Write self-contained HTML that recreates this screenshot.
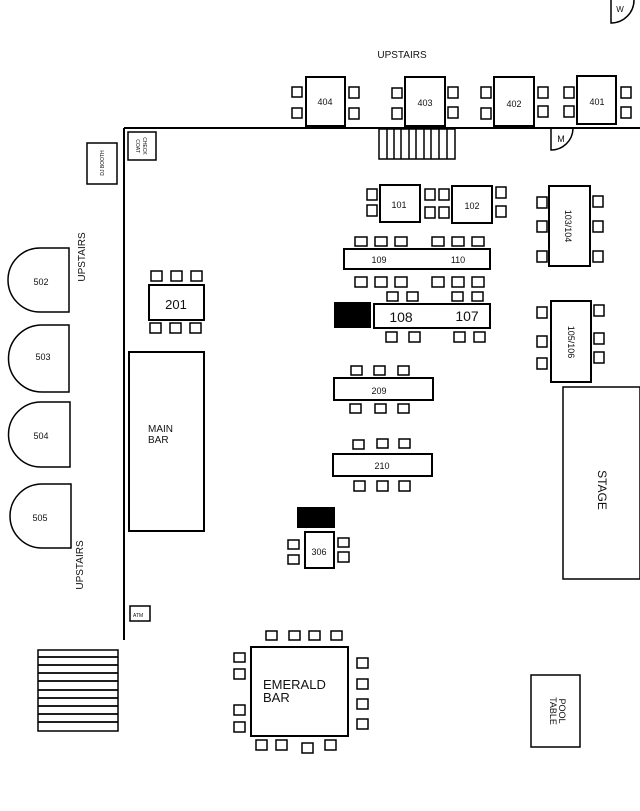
<!DOCTYPE html>
<html><head><meta charset="utf-8"><style>
html,body{margin:0;padding:0;background:#fff}
svg{display:block}
text{font-family:"Liberation Sans",Arial,sans-serif;fill:#111}
</style></head><body>
<svg width="640" height="811" viewBox="0 0 640 811" xmlns="http://www.w3.org/2000/svg">
<g fill="#fff" stroke="#000" stroke-width="2">
<line x1="124" y1="128" x2="640" y2="128"/>
<line x1="124" y1="128" x2="124" y2="640"/>
<path d="M611,0 V23 A23,23 0 0 0 634,0" stroke-width="1.5"/>
<path d="M551,129 V150 A22,22 0 0 0 573,129" stroke-width="1.5"/>
<rect x="379" y="129" width="76" height="30" stroke-width="1.5"/>
<g stroke-width="1.5">
<line x1="387" y1="129" x2="387" y2="159"/><line x1="394" y1="129" x2="394" y2="159"/>
<line x1="401" y1="129" x2="401" y2="159"/><line x1="409" y1="129" x2="409" y2="159"/>
<line x1="416" y1="129" x2="416" y2="159"/><line x1="424" y1="129" x2="424" y2="159"/>
<line x1="431" y1="129" x2="431" y2="159"/><line x1="439" y1="129" x2="439" y2="159"/>
<line x1="447" y1="129" x2="447" y2="159"/>
</g>
<rect x="306" y="77" width="39" height="49"/>
<rect x="405" y="77" width="40" height="49"/>
<rect x="494" y="77" width="40" height="49"/>
<rect x="577" y="76" width="39" height="48"/>
<g stroke-width="1.5">
<rect x="292" y="87" width="10" height="10"/><rect x="292" y="108" width="10" height="10"/>
<rect x="349" y="87" width="10" height="11"/><rect x="349" y="108" width="10" height="11"/>
<rect x="392" y="88" width="10" height="10"/><rect x="392" y="108" width="10" height="11"/>
<rect x="448" y="87" width="10" height="11"/><rect x="448" y="107" width="10" height="11"/>
<rect x="481" y="87" width="10" height="11"/><rect x="481" y="108" width="10" height="11"/>
<rect x="538" y="87" width="10" height="11"/><rect x="538" y="106" width="10" height="11"/>
<rect x="564" y="87" width="10" height="11"/><rect x="564" y="106" width="10" height="11"/>
<rect x="621" y="87" width="10" height="11"/><rect x="621" y="107" width="10" height="11"/>
</g>
<rect x="128" y="132" width="28" height="28" stroke-width="1.5"/>
<rect x="87" y="143" width="30" height="41" stroke-width="1.5"/>
<path d="M69,248 H40 A32,32 0 0 0 40,312 H69 Z" stroke-width="1.5"/>
<path d="M69,325 H42 A33,33 0 0 0 42,392 H69 Z" stroke-width="1.5"/>
<path d="M70,402 H41 A32.5,32.5 0 0 0 41,467 H70 Z" stroke-width="1.5"/>
<path d="M71,484 H42 A32,32 0 0 0 42,548 H71 Z" stroke-width="1.5"/>
<rect x="149" y="285" width="55" height="35"/>
<g stroke-width="1.5">
<rect x="151" y="271" width="11" height="10"/><rect x="171" y="271" width="11" height="10"/><rect x="191" y="271" width="11" height="10"/>
<rect x="150" y="323" width="11" height="10"/><rect x="170" y="323" width="11" height="10"/><rect x="190" y="323" width="11" height="10"/>
</g>
<rect x="129" y="352" width="75" height="179"/>
<rect x="130" y="606" width="20" height="15" stroke-width="1.5"/>
<rect x="38" y="650" width="80" height="81" stroke-width="1.5"/>
<g stroke-width="1.8">
<line x1="38" y1="657" x2="118" y2="657"/><line x1="38" y1="665" x2="118" y2="665"/>
<line x1="38" y1="673" x2="118" y2="673"/><line x1="38" y1="681" x2="118" y2="681"/>
<line x1="38" y1="690" x2="118" y2="690"/><line x1="38" y1="698" x2="118" y2="698"/>
<line x1="38" y1="706" x2="118" y2="706"/><line x1="38" y1="714" x2="118" y2="714"/>
<line x1="38" y1="722" x2="118" y2="722"/>
</g>
<rect x="298" y="508" width="36" height="19" fill="#000"/>
<rect x="305" y="532" width="29" height="36"/>
<g stroke-width="1.5">
<rect x="288" y="540" width="11" height="9"/><rect x="288" y="555" width="11" height="9"/>
<rect x="338" y="538" width="11" height="9"/><rect x="338" y="552" width="11" height="10"/>
</g>
<rect x="251" y="647" width="97" height="89"/>
<g stroke-width="1.5">
<rect x="266" y="631" width="11" height="9"/><rect x="289" y="631" width="11" height="9"/><rect x="309" y="631" width="11" height="9"/><rect x="331" y="631" width="11" height="9"/>
<rect x="234" y="653" width="11" height="9"/><rect x="234" y="669" width="11" height="10"/><rect x="234" y="705" width="11" height="10"/><rect x="234" y="722" width="11" height="10"/>
<rect x="357" y="658" width="11" height="10"/><rect x="357" y="679" width="11" height="10"/><rect x="357" y="699" width="11" height="10"/><rect x="357" y="719" width="11" height="10"/>
<rect x="256" y="740" width="11" height="10"/><rect x="276" y="740" width="11" height="10"/><rect x="302" y="743" width="11" height="10"/><rect x="325" y="740" width="11" height="10"/>
</g>
<rect x="380" y="185" width="40" height="37"/>
<rect x="452" y="186" width="40" height="37"/>
<g stroke-width="1.5">
<rect x="367" y="189" width="10" height="11"/><rect x="367" y="205" width="10" height="11"/>
<rect x="425" y="189" width="10" height="11"/><rect x="425" y="207" width="10" height="11"/>
<rect x="439" y="189" width="10" height="11"/><rect x="439" y="207" width="10" height="11"/>
<rect x="496" y="187" width="10" height="11"/><rect x="496" y="206" width="10" height="11"/>
</g>
<rect x="344" y="249" width="146" height="20"/>
<g stroke-width="1.5">
<rect x="355" y="237" width="12" height="9"/><rect x="375" y="237" width="12" height="9"/><rect x="395" y="237" width="12" height="9"/>
<rect x="432" y="237" width="12" height="9"/><rect x="452" y="237" width="12" height="9"/><rect x="472" y="237" width="12" height="9"/>
<rect x="355" y="277" width="12" height="10"/><rect x="375" y="277" width="12" height="10"/><rect x="395" y="277" width="12" height="10"/>
<rect x="432" y="277" width="12" height="10"/><rect x="452" y="277" width="12" height="10"/><rect x="472" y="277" width="12" height="10"/>
</g>
<rect x="335" y="303" width="35" height="24" fill="#000"/>
<rect x="374" y="304" width="116" height="24"/>
<g stroke-width="1.5">
<rect x="387" y="292" width="11" height="9"/><rect x="407" y="292" width="11" height="9"/>
<rect x="452" y="292" width="11" height="9"/><rect x="472" y="292" width="11" height="9"/>
<rect x="386" y="332" width="11" height="10"/><rect x="409" y="332" width="11" height="10"/>
<rect x="454" y="332" width="11" height="10"/><rect x="474" y="332" width="11" height="10"/>
</g>
<rect x="549" y="186" width="41" height="80"/>
<rect x="551" y="301" width="40" height="81"/>
<g stroke-width="1.5">
<rect x="537" y="197" width="10" height="11"/><rect x="537" y="221" width="10" height="11"/><rect x="537" y="251" width="10" height="11"/>
<rect x="593" y="196" width="10" height="11"/><rect x="593" y="221" width="10" height="11"/><rect x="593" y="251" width="10" height="11"/>
<rect x="537" y="307" width="10" height="11"/><rect x="537" y="336" width="10" height="11"/><rect x="537" y="358" width="10" height="11"/>
<rect x="594" y="305" width="10" height="11"/><rect x="594" y="333" width="10" height="11"/><rect x="594" y="352" width="10" height="11"/>
</g>
<rect x="334" y="378" width="99" height="22"/>
<rect x="333" y="454" width="99" height="22"/>
<g stroke-width="1.5">
<rect x="351" y="366" width="11" height="9"/><rect x="374" y="366" width="11" height="9"/><rect x="398" y="366" width="11" height="9"/>
<rect x="350" y="404" width="11" height="9"/><rect x="375" y="404" width="11" height="9"/><rect x="398" y="404" width="11" height="9"/>
<rect x="353" y="440" width="11" height="9"/><rect x="377" y="439" width="11" height="9"/><rect x="399" y="439" width="11" height="9"/>
<rect x="354" y="481" width="11" height="10"/><rect x="377" y="481" width="11" height="10"/><rect x="399" y="481" width="11" height="10"/>
</g>
<rect x="563" y="387" width="77" height="192" stroke-width="1.5"/>
<rect x="531" y="675" width="49" height="72" stroke-width="1.5"/>
</g>

<g text-anchor="middle">
<text x="402" y="58" font-size="10">UPSTAIRS</text>
<text x="325" y="105" font-size="9">404</text>
<text x="425" y="106" font-size="9">403</text>
<text x="514" y="107" font-size="9">402</text>
<text x="597" y="105" font-size="9">401</text>
<text x="561" y="142" font-size="9">M</text>
<text x="620" y="12" font-size="8">W</text>
<text x="399" y="208" font-size="9">101</text>
<text x="472" y="209" font-size="9">102</text>
<text x="379" y="263" font-size="9">109</text>
<text x="458" y="263" font-size="9">110</text>
<text x="401" y="322" font-size="14">108</text>
<text x="467" y="321" font-size="14">107</text>
<text x="379" y="394" font-size="9">209</text>
<text x="382" y="469" font-size="9">210</text>
<text x="319" y="555" font-size="9">306</text>
<text x="176" y="309" font-size="13">201</text>
<text x="41" y="285" font-size="9">502</text>
<text x="43" y="360" font-size="9">503</text>
<text x="41" y="439" font-size="9">504</text>
<text x="40" y="521" font-size="9">505</text>
</g>
<text x="148" y="432" font-size="10">MAIN</text>
<text x="148" y="443" font-size="10">BAR</text>
<text x="263" y="689" font-size="13">EMERALD</text>
<text x="263" y="702" font-size="13">BAR</text>
<text x="133" y="617" font-size="5">ATM</text>
<g text-anchor="middle">
<text transform="translate(85,257) rotate(-90)" font-size="10">UPSTAIRS</text>
<text transform="translate(83,565) rotate(-90)" font-size="10">UPSTAIRS</text>
<text transform="translate(104,163) rotate(-90)" font-size="5">DJ BOOTH</text>
<text transform="translate(136,146) rotate(90)" font-size="5">COAT</text>
<text transform="translate(143,146) rotate(90)" font-size="5">CHECK</text>
<text transform="translate(565,226) rotate(90)" font-size="9">103/104</text>
<text transform="translate(568,342) rotate(90)" font-size="9">105/106</text>
<text transform="translate(598,490) rotate(90)" font-size="12">STAGE</text>
<text transform="translate(559,711) rotate(90)" font-size="9">POOL</text>
<text transform="translate(550,711) rotate(90)" font-size="9">TABLE</text>
</g>
</svg>
</body></html>
